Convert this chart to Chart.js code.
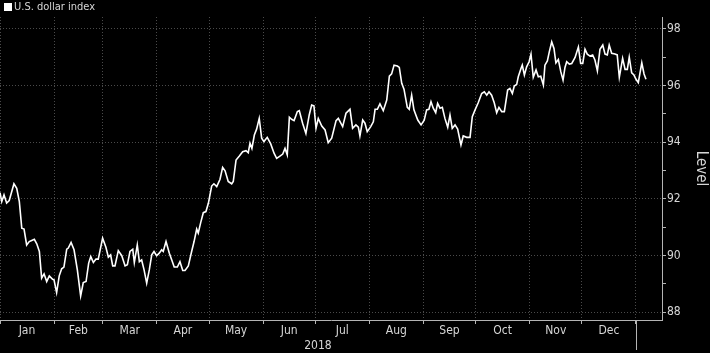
<!DOCTYPE html>
<html>
<head>
<meta charset="utf-8">
<script src="https://cdn.jsdelivr.net/npm/chart.js@4"></script>
<style>
  html,body{margin:0;padding:0;background:#000;overflow:hidden}
  #wrap{width:710px;height:353px;background:#000}
</style>
</head>
<body>
<div id="wrap"><canvas id="chart" width="710" height="353"></canvas></div>
<script>
/* ============================================================
   U.S. dollar index, 2018 — daily level
   ============================================================ */
const MONTHS = ['Jan','Feb','Mar','Apr','May','Jun','Jul','Aug','Sep','Oct','Nov','Dec'];
const MONTH_START = [0,31,59,90,120,151,181,212,243,273,304,334,365];
const YEAR_LABEL = '2018';
const SERIES_NAME = 'U.S. dollar index';
const Y_TICKS = [88,89,90,91,92,93,94,95,96,97,98];

// day offset from 1 Jan 2018
const DAYS = [
  0,1.0,2.3,3.8,5.3,8.0,9.6,11.1,12.5,13.8,15.3,16.8,18.2,19.7,21.1,22.6,23.9,25.3,26.8,28.3,
  30.2,31.0,32.5,34.0,35.4,36.7,38.3,39.2,40.8,42.5,44.4,46.3,47.8,49.4,50.9,52.1,53.6,55.1,56.4,58.9,
  60.8,62.2,63.5,64.7,66.0,67.9,69.9,71.8,73.1,74.6,76.2,77.1,78.8,80.0,81.3,82.7,84.2,85.7,87.1,88.4,
  89.9,91.4,92.8,93.7,95.3,97.2,98.6,100.0,101.8,103.3,104.9,106.2,108.1,110.0,111.4,112.9,113.8,115.2,116.7,118.2,
  119.6,121.5,122.8,124.4,126.3,127.8,129.2,131.0,133.0,133.9,135.5,137.4,139.3,141.2,142.5,143.5,144.6,146.0,147.3,148.8,
  150.2,151.5,153.4,155.4,157.3,158.8,160.7,162.3,163.6,164.9,166.1,167.4,168.8,170.7,171.8,173.7,175.6,177.5,178.9,180.2,
  181.4,182.7,184.7,186.6,188.4,190.4,192.9,194.2,196.7,198.6,200.9,202.4,204.3,205.7,206.6,208.2,209.5,210.8,212.8,214.3,
  215.3,216.6,218.1,220.0,222.0,223.5,224.8,226.2,228.1,229.2,230.6,231.9,233.8,234.9,236.3,237.6,239.8,241.7,243.5,244.9,
  246.2,247.4,248.7,250.1,251.2,252.6,253.9,255.4,257.0,258.3,259.6,261.2,262.7,264.6,265.9,267.9,269.8,271.1,272.7,274.5,
  276.5,278.0,279.4,280.7,282.2,283.7,285.1,286.4,288.0,289.5,291.4,292.7,294.1,295.2,296.6,297.5,299.1,299.8,301.0,302.3,
  303.7,304.8,306.1,307.7,309.0,310.4,311.9,312.8,314.2,315.3,316.7,318.0,319.1,320.5,321.9,323.2,324.3,325.3,326.8,328.2,
  330.1,332.0,333.3,334.5,335.8,337.1,338.7,340.2,341.5,342.9,344.4,346.0,347.3,348.6,349.7,351.1,353.0,354.3,355.5,357.4,
  358.8,360.1,361.2,362.6,363.9,365.1,366.4,368.4,369.7,370.8
];
const LEVELS = [
  92.22,91.90,92.14,91.85,91.94,92.53,92.37,91.90,90.96,90.93,90.37,90.49,90.53,90.57,90.41,90.14,89.20,89.35,89.08,89.28,
  89.16,89.14,88.69,89.28,89.53,89.59,90.22,90.26,90.46,90.20,89.49,88.57,89.04,89.08,89.73,89.96,89.75,89.87,89.87,90.61,
  90.29,89.94,90.02,89.63,89.63,90.17,89.99,89.63,89.67,90.14,90.22,89.75,90.37,89.78,89.84,89.49,89.02,89.49,90.02,90.14,
  89.99,90.08,90.20,90.14,90.49,90.08,89.84,89.59,89.59,89.78,89.47,89.47,89.63,90.14,90.49,90.93,90.79,91.16,91.51,91.55,
  91.84,92.45,92.53,92.43,92.69,93.11,92.99,92.61,92.53,92.61,93.37,93.51,93.66,93.70,93.63,93.96,93.78,94.25,94.46,94.84,
  94.14,94.02,94.17,93.94,93.61,93.43,93.51,93.58,93.78,93.55,94.88,94.81,94.76,95.08,95.11,94.67,94.31,94.96,95.31,95.28,
  94.49,94.84,94.57,94.43,93.98,94.14,94.76,94.84,94.55,95.02,95.16,94.49,94.61,94.53,94.22,94.78,94.67,94.37,94.55,94.72,
  95.16,95.16,95.35,95.11,95.49,96.33,96.41,96.72,96.69,96.64,96.08,95.87,95.23,95.16,95.66,95.14,94.78,94.61,94.78,95.14,
  95.16,95.43,95.20,95.04,95.37,95.20,95.23,94.84,94.53,94.96,94.49,94.61,94.46,93.90,94.22,94.17,94.17,94.90,95.14,95.39,
  95.72,95.78,95.66,95.78,95.66,95.39,95.04,95.23,95.08,95.08,95.84,95.90,95.72,95.98,96.04,96.31,96.61,96.72,96.37,96.66,
  96.84,97.11,96.29,96.55,96.31,96.33,96.02,96.72,96.87,97.19,97.54,97.31,96.80,96.92,96.49,96.19,96.64,96.84,96.76,96.78,
  96.99,97.36,96.78,96.78,97.28,97.11,97.04,97.08,96.90,96.52,97.28,97.43,97.11,97.08,97.43,97.14,97.11,97.08,96.29,96.96,
  96.57,96.57,97.00,96.45,96.37,96.22,96.10,96.80,96.41,96.22
];

(function(){
  const FONT = "'DejaVu Sans Condensed','Liberation Sans Narrow','DejaVu Sans',sans-serif";
  const AXIS = '#b4b4b4', GRID = '#4a4a4a', TEXT = '#d6d6d6';

  const mids = MONTHS.map((m,i) => (MONTH_START[i] + MONTH_START[i+1]) / 2);
  const yearMid = (MONTH_START[0] + MONTH_START[12]) / 2 + 0.01;
  const isBoundary = v => MONTH_START.includes(v);

  // legend + year separator
  const extras = {
    id:'extras',
    afterDraw(chart){
      const {ctx} = chart;
      const x = chart.scales.x;
      ctx.save();
      ctx.fillStyle = '#ffffff';
      ctx.fillRect(4, 3, 8, 8);
      ctx.fillStyle = TEXT;
      ctx.font = `11px ${FONT}`;
      ctx.textBaseline = 'middle';
      ctx.fillText(SERIES_NAME, 14, 7.5);
      const px = Math.round(x.getPixelForValue(MONTH_START[12])) + 0.5;
      ctx.strokeStyle = AXIS; ctx.lineWidth = 1;
      ctx.beginPath(); ctx.moveTo(px, x.top); ctx.lineTo(px, chart.height - 3); ctx.stroke();
      ctx.restore();
    }
  };

  new Chart(document.getElementById('chart'), {
    type:'line',
    data:{ datasets:[{
      label:SERIES_NAME,
      data:DAYS.map((d,i) => ({x:d, y:LEVELS[i]})),
      borderColor:'#ffffff', borderWidth:1.6, pointRadius:0, tension:0, fill:false
    }]},
    options:{
      responsive:false, animation:false,
      layout:{ padding:{ top:17, left:0, right:0, bottom:0 } },
      plugins:{ legend:{ display:false }, tooltip:{ enabled:false } },
      scales:{
        x:{
          type:'linear', min:0, max:380, position:'bottom',
          afterBuildTicks: s => {
            s.ticks = [...MONTH_START, ...mids, yearMid].sort((a,b)=>a-b).map(v => ({value:v}));
          },
          afterFit: s => { s.height = 33; },
          grid:{
            color: c => isBoundary(c.tick && c.tick.value) ? GRID : 'transparent',
            tickColor: c => isBoundary(c.tick && c.tick.value) ? AXIS : 'transparent',
            tickLength:4, lineWidth:1
          },
          border:{ display:true, color:AXIS, dash:[1,2] },
          ticks:{
            autoSkip:false, maxRotation:0, padding:0, color:TEXT,
            font:{ family:FONT, size:12 },
            callback: v => {
              const i = mids.indexOf(v);
              if (i >= 0) return MONTHS[i];
              if (v === yearMid) return ['', YEAR_LABEL];
              return '';
            }
          }
        },
        y:{
          position:'right', min:87.72, max:98.42,
          afterBuildTicks: s => { s.ticks = Y_TICKS.map(v => ({value:v})); },
          afterFit: s => { s.width = 48; },
          grid:{
            color: c => (c.tick && c.tick.value % 2 === 0) ? GRID : 'transparent',
            tickColor:AXIS, tickLength:4, lineWidth:1
          },
          border:{ display:true, color:AXIS, dash:[1,2] },
          ticks:{
            padding:1, color:TEXT, font:{ family:FONT, size:12 },
            callback: v => v % 2 === 0 ? v : ''
          },
          title:{ display:true, text:'Level', color:TEXT, font:{ family:FONT, size:15 }, padding:{ top:0, bottom:3 } }
        }
      }
    },
    plugins:[extras]
  });
})();
</script>
</body>
</html>
